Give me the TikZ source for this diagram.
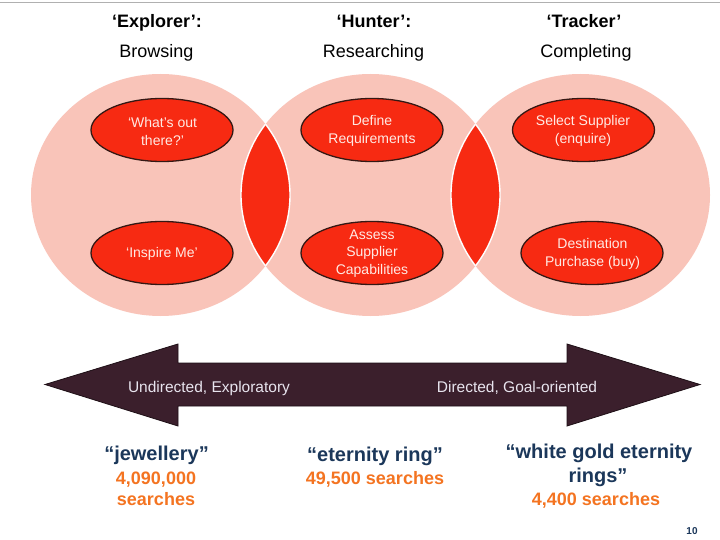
\documentclass[tikz,border=0pt]{standalone}
\usepackage{fontspec}
\setmainfont{Liberation Sans}
\usetikzlibrary{shapes.geometric}
\definecolor{pinkbg}{RGB}{249,196,185}
\definecolor{redfill}{RGB}{247,42,18}
\definecolor{ellborder}{RGB}{52,24,20}
\definecolor{arrowfill}{RGB}{59,31,44}
\definecolor{arrowline}{RGB}{30,15,22}
\definecolor{navy}{RGB}{27,55,90}
\definecolor{orangetxt}{RGB}{244,116,33}
\definecolor{elltext}{RGB}{255,234,228}
\definecolor{arrowtext}{RGB}{232,228,238}
\definecolor{topline}{RGB}{176,176,176}
\begin{document}
\begin{tikzpicture}[x=1pt,y=-1pt,
  bigcirc/.style={fill=pinkbg},
  stage/.style={ellipse, draw=ellborder, line width=1.3pt, fill=redfill,
    minimum width=142pt, minimum height=63pt, inner sep=0pt},
  stagetxt/.style={text=elltext, font=\fontsize{14}{18}\selectfont, align=center, inner sep=0pt},
  headtxt/.style={font=\fontsize{18}{21}\selectfont\bfseries, anchor=base, inner sep=0pt},
  subtxt/.style={font=\fontsize{18}{21}\selectfont, anchor=base, inner sep=0pt},
  arrtxt/.style={text=arrowtext, font=\fontsize{15.5}{18}\selectfont, anchor=base, inner sep=0pt},
  kwtxt/.style={text=navy, font=\fontsize{20}{24}\selectfont\bfseries, anchor=base, inner sep=0pt},
  numtxt/.style={text=orangetxt, font=\fontsize{18}{22}\selectfont\bfseries, anchor=base, inner sep=0pt},
  lensline/.style={draw=white, line width=1.4pt}
]
\useasboundingbox (0,0) rectangle (720,540);
\fill[white] (0,0) rectangle (720,540);
\draw[topline, line width=1pt] (0,2.5) -- (720,2.5);

% headings
\node[headtxt] (h1) at (157,28) {‘Explorer’:};
\node[subtxt] (s1) at (156.5,58) {Browsing};
\node[headtxt] (h2) at (374,28) {‘Hunter’:};
\node[subtxt] (s2) at (373.5,58) {Researching};
\node[headtxt] (h3) at (584,28) {‘Tracker’};
\node[subtxt] (s3) at (586,58) {Completing};

% big circles
\fill[bigcirc] (160.5,195) ellipse [x radius=129.5pt, y radius=121pt];
\fill[bigcirc] (370.5,195) ellipse [x radius=129.5pt, y radius=121pt];
\fill[bigcirc] (580.5,195) ellipse [x radius=129.5pt, y radius=121pt];

% lens 1
\begin{scope}
  \clip (160.5,195) ellipse [x radius=129.5pt, y radius=121pt];
  \fill[redfill] (370.5,195) ellipse [x radius=129.5pt, y radius=121pt];
  \draw[lensline] (370.5,195) ellipse [x radius=129.5pt, y radius=121pt];
\end{scope}
\begin{scope}
  \clip (370.5,195) ellipse [x radius=129.5pt, y radius=121pt];
  \draw[lensline] (160.5,195) ellipse [x radius=129.5pt, y radius=121pt];
\end{scope}
% lens 2
\begin{scope}
  \clip (370.5,195) ellipse [x radius=129.5pt, y radius=121pt];
  \fill[redfill] (580.5,195) ellipse [x radius=129.5pt, y radius=121pt];
  \draw[lensline] (580.5,195) ellipse [x radius=129.5pt, y radius=121pt];
\end{scope}
\begin{scope}
  \clip (580.5,195) ellipse [x radius=129.5pt, y radius=121pt];
  \draw[lensline] (370.5,195) ellipse [x radius=129.5pt, y radius=121pt];
\end{scope}

% stage ellipses
\node[stage] (e1) at (162,130) {};
\node[stage] (e2) at (162,253) {};
\node[stage] (e3) at (372,130) {};
\node[stage] (e4) at (372,253) {};
\node[stage] (e5) at (583.5,130) {};
\node[stage] (e6) at (592,253) {};
\node[stagetxt] (t1) at (162.5,131.5) {‘What’s out\\there?’};
\node[stagetxt] (t2) at (162,253.5) {‘Inspire Me’};
\node[stagetxt] (t3) at (372,131) {Define\\Requirements};
\node[stagetxt, font=\fontsize{14}{17.5}\selectfont] (t4) at (372,253.5) {Assess\\Supplier\\Capabilities};
\node[stagetxt] (t5) at (583,131) {Select Supplier\\(enquire)};
\node[stagetxt] (t6) at (592.5,254) {Destination\\Purchase (buy)};

% double arrow
\filldraw[fill=arrowfill, draw=arrowline, line width=0.8pt]
  (45,384.5) -- (178,344) -- (178,363) -- (567,363) -- (567,344) -- (700,384.5)
  -- (567,426) -- (567,406) -- (178,406) -- (178,426) -- cycle;
\node[arrtxt] (a1) at (209,392.5) {Undirected, Exploratory};
\node[arrtxt] (a2) at (517,392.5) {Directed, Goal-oriented};

% bottom keywords
\node[kwtxt] (k1) at (156.5,460) {“jewellery”};
\node[numtxt] (n1a) at (156,484) {4,090,000};
\node[numtxt] (n1b) at (156,505) {searches};
\node[kwtxt] (k2) at (375,461) {“eternity ring”};
\node[numtxt] (n2) at (375,484) {49,500 searches};
\node[kwtxt] (k3a) at (599,458) {“white gold eternity};
\node[kwtxt] (k3b) at (598,482) {rings”};
\node[numtxt] (n3) at (596,505) {4,400 searches};

\node[text=navy, font=\fontsize{10}{12}\selectfont\bfseries, anchor=base, inner sep=0pt] (pg) at (692,534) {10};
\end{tikzpicture}
\end{document}
